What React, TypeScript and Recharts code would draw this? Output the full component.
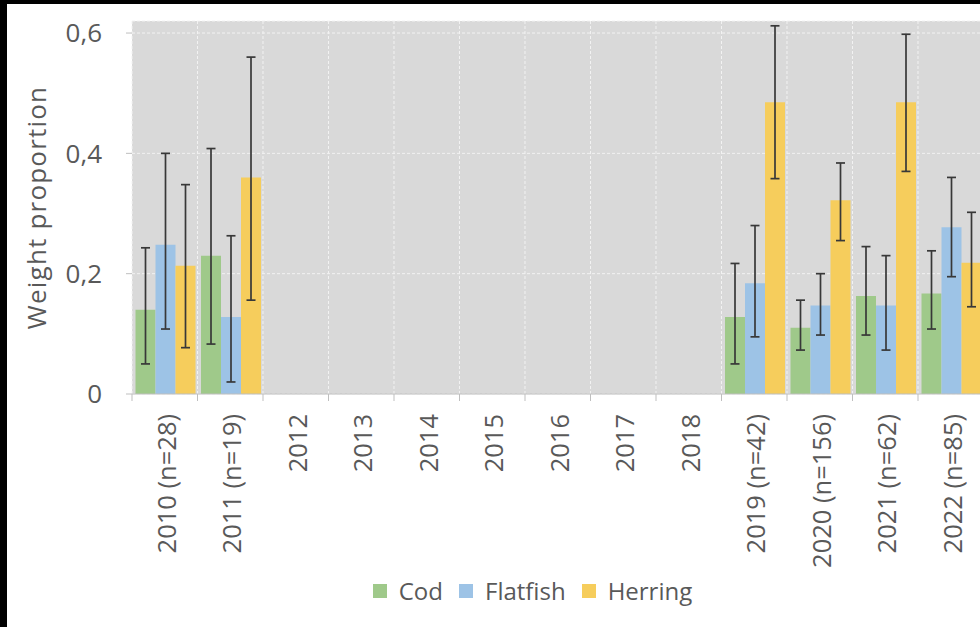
import { BarChart, Bar, XAxis, YAxis, CartesianGrid, ErrorBar, Legend } from 'recharts';

const categories = [
  '2010 (n=28)', '2011 (n=19)', '2012', '2013', '2014', '2015', '2016', '2017', '2018',
  '2019 (n=42)', '2020 (n=156)', '2021 (n=62)', '2022 (n=85)',
];

const cod = [0.14, 0.23, null, null, null, null, null, null, null, 0.128, 0.11, 0.163, 0.167];
const codLow = [0.05, 0.083, null, null, null, null, null, null, null, 0.05, 0.073, 0.098, 0.108];
const codHigh = [0.243, 0.408, null, null, null, null, null, null, null, 0.217, 0.156, 0.245, 0.238];

const flatfish = [0.248, 0.128, null, null, null, null, null, null, null, 0.184, 0.147, 0.147, 0.277];
const flatfishLow = [0.108, 0.02, null, null, null, null, null, null, null, 0.095, 0.098, 0.073, 0.195];
const flatfishHigh = [0.4, 0.263, null, null, null, null, null, null, null, 0.28, 0.2, 0.23, 0.36];

const herring = [0.213, 0.36, null, null, null, null, null, null, null, 0.485, 0.322, 0.485, 0.218];
const herringLow = [0.077, 0.156, null, null, null, null, null, null, null, 0.358, 0.255, 0.37, 0.145];
const herringHigh = [0.348, 0.56, null, null, null, null, null, null, null, 0.612, 0.384, 0.598, 0.302];

const yTicks = [0, 0.2, 0.4, 0.6];

const TEXT = '#595959';
const AXIS = '#BFBFBF';
const WHISKER = '#383838';

// ErrorBar wants [minus, plus] offsets around the bar value
const err = (v: number | null, lo: number | null, hi: number | null) =>
  v == null || lo == null || hi == null ? undefined : [v - lo, hi - v];

const data = categories.map((year, i) => ({
  year,
  cod: cod[i],
  codErr: err(cod[i], codLow[i], codHigh[i]),
  flatfish: flatfish[i],
  flatfishErr: err(flatfish[i], flatfishLow[i], flatfishHigh[i]),
  herring: herring[i],
  herringErr: err(herring[i], herringLow[i], herringHigh[i]),
}));

function YearTick(props: any) {
  const { x, y, payload, index } = props;
  const half = payload.offset || 0;
  const ty = y + 20;
  return (
    <g>
      <line x1={x - half} x2={x - half} y1={y} y2={y + 7} stroke={AXIS} />
      {index === categories.length - 1 && (
        <line x1={x + half} x2={x + half} y1={y} y2={y + 7} stroke={AXIS} />
      )}
      <text
        x={x + 2}
        y={ty}
        dy="0.35em"
        transform={`rotate(-90 ${x + 2} ${ty})`}
        textAnchor="end"
        fill={TEXT}
        fontSize={25.5}
      >
        {payload.value}
      </text>
    </g>
  );
}

function LegendRow({ payload }: any) {
  return (
    <div style={{ display: 'flex', justifyContent: 'center', alignItems: 'center', lineHeight: '33px', fontSize: 24, color: TEXT }}>
      {(payload || []).map((p: any, i: number) => (
        <span key={p.value} style={{ display: 'inline-flex', alignItems: 'center', marginLeft: i ? 16 : 0 }}>
          <span style={{ width: 14, height: 14, background: p.color, marginRight: 12 }} />
          {p.value}
        </span>
      ))}
    </div>
  );
}

export default function App() {
  return (
    <div style={{ position: 'fixed', left: 0, top: 0, width: 980, height: 627, overflow: 'hidden', background: '#000' }}>
      <div
        style={{
          position: 'absolute', left: 7, top: 4, width: 973, height: 623,
          overflow: 'hidden', background: '#fff', fontFamily: '"Open Sans", sans-serif',
        }}
      >
        <BarChart
          width={1000}
          height={623}
          data={data}
          margin={{ top: 17, right: 23.5, bottom: 20, left: 0 }}
          barCategoryGap={3.5}
          barGap={0}
        >
          <CartesianGrid
            fill="#D9D9D9"
            stroke="#F2F2F2"
            strokeDasharray="3 2"
            verticalCoordinatesGenerator={({ offset }: any) =>
              categories.map((_, i) => offset.left + (i * offset.width) / categories.length)
            }
          />
          <XAxis
            dataKey="year"
            interval={0}
            height={180}
            tickSize={0}
            tickMargin={0}
            tick={<YearTick />}
            axisLine={{ stroke: AXIS }}
          />
          <YAxis
            width={125}
            domain={[0, 0.62]}
            ticks={yTicks}
            axisLine={false}
            tickLine={{ stroke: AXIS }}
            tickSize={6}
            tickMargin={24}
            tick={{ fill: TEXT, fontSize: 26 }}
            tickFormatter={(v: number) => String(v).replace('.', ',')}
            label={{
              value: 'Weight proportion',
              angle: -90,
              position: 'insideLeft',
              offset: 30,
              fill: TEXT,
              fontSize: 26,
              style: { textAnchor: 'middle', letterSpacing: '1.2px' },
            }}
          />
          <Legend
            verticalAlign="bottom"
            content={<LegendRow />}
            wrapperStyle={{ left: 0, width: 1051, bottom: 20 }}
          />
          <Bar dataKey="cod" name="Cod" fill="#9FC98A" isAnimationActive={false}>
            <ErrorBar dataKey="codErr" width={4.5} stroke={WHISKER} strokeWidth={1.7} />
          </Bar>
          <Bar dataKey="flatfish" name="Flatfish" fill="#9DC3E6" isAnimationActive={false}>
            <ErrorBar dataKey="flatfishErr" width={4.5} stroke={WHISKER} strokeWidth={1.7} />
          </Bar>
          <Bar dataKey="herring" name="Herring" fill="#F6CD5C" isAnimationActive={false}>
            <ErrorBar dataKey="herringErr" width={4.5} stroke={WHISKER} strokeWidth={1.7} />
          </Bar>
        </BarChart>
      </div>
    </div>
  );
}
